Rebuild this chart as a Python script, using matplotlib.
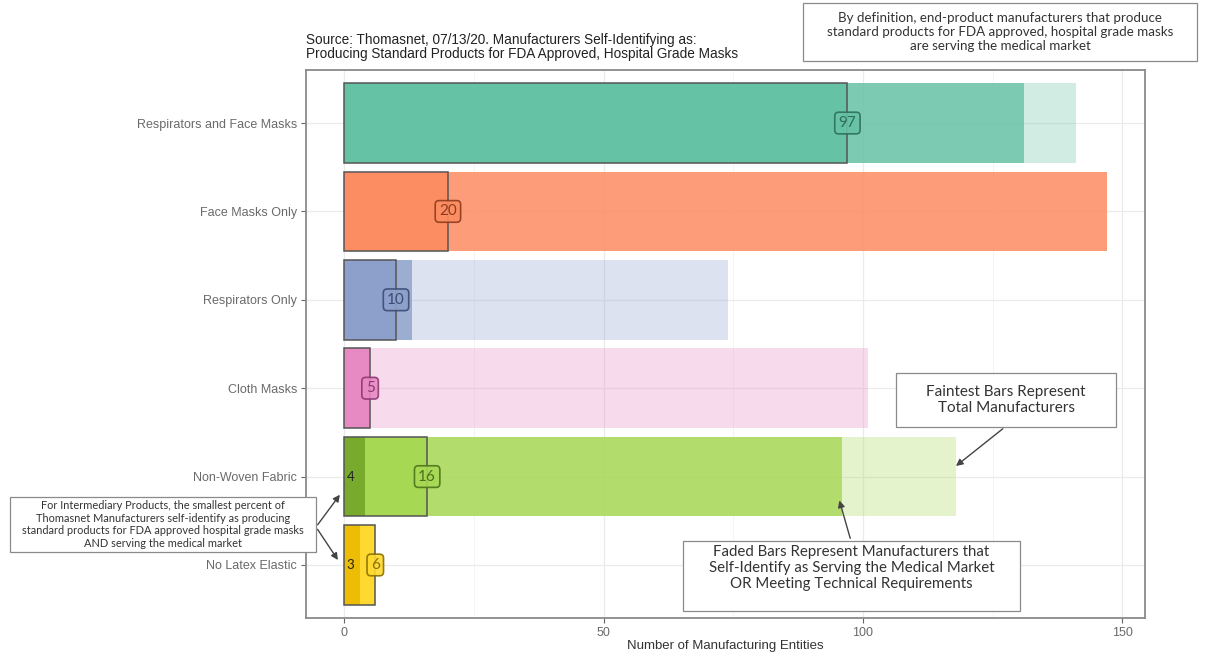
import matplotlib
matplotlib.use("Agg")
import matplotlib.pyplot as plt
from matplotlib.patches import Rectangle
from matplotlib.ticker import MultipleLocator

# data
categories = ["Respirators and Face Masks", "Face Masks Only", "Respirators Only",
              "Cloth Masks", "Non-Woven Fabric", "No Latex Elastic"]
total = [141, 147, 74, 101, 118, 6]              # faintest bars
medical_or_tech = [131, 147, 13, 5, 96, 6]       # faded bars
standard = [97, 20, 10, 5, 16, 6]                # solid bars
intermediary = [0, 0, 0, 0, 4, 3]                # dark inner bars

colors = ["#66C2A5", "#FC8D62", "#8DA0CB", "#E78AC3", "#A6D854", "#FFD92F"]
label_colors = ["#2F6E59", "#8E3B1C", "#3B4B72", "#8E3572", "#4C721A", "#8A7000"]
inner_colors = ["#66C2A5", "#FC8D62", "#8DA0CB", "#E78AC3", "#78AA2C", "#EDBD05"]

W, H = 1206, 654
fig = plt.figure(figsize=(W / 100, H / 100), dpi=100)
ax = fig.add_axes([306 / W, 1 - 618 / H, (1145 - 306) / W, (618 - 70) / H])

ypos = [len(categories) - 1 - i for i in range(len(categories))]

ax.barh(ypos, total, height=0.9, color=colors, alpha=0.3, lw=0, zorder=2)
ax.barh(ypos, medical_or_tech, height=0.9, color=colors, alpha=0.8, lw=0, zorder=3)
ax.barh(ypos, standard, height=0.9, color=colors, lw=0, zorder=4)
ax.barh(ypos, intermediary, height=0.9, color=inner_colors, lw=0, zorder=5)
ax.barh(ypos, standard, height=0.9, fill=False, edgecolor="#555555", lw=1.1, zorder=6)

for y, v, c, lc in zip(ypos, standard, colors, label_colors):
    ax.text(v, y, str(v), ha="center", va="center", fontsize=11, color=lc,
            family="Lato", zorder=8,
            bbox=dict(boxstyle="round,pad=0.25,rounding_size=0.25", fc=c,
                      ec=lc, lw=1.2, alpha=0.9))
for y, v in zip(ypos, intermediary):
    if v:
        ax.text(1.2, y, str(v), ha="center", va="center", fontsize=9.5,
                color="#222222", family="Lato", zorder=8)

xmax = max(total)
ax.set_xlim(-0.05 * xmax, 1.05 * xmax)
ax.set_ylim(-0.6, len(categories) - 0.4)
ax.set_yticks(ypos)
ax.set_yticklabels(categories)
ax.xaxis.set_major_locator(MultipleLocator(50))
ax.xaxis.set_minor_locator(MultipleLocator(25))
ax.grid(which="major", color="#EBEBEB", lw=0.9, zorder=0)
ax.grid(which="minor", axis="x", color="#F3F3F3", lw=0.6, zorder=0)
ax.set_axisbelow(True)
for s in ax.spines.values():
    s.set_color("#8A8A8A")
    s.set_linewidth(1.3)
ax.tick_params(which="major", length=3.5, color="#666666", labelcolor="#6A6A6A",
               labelsize=9, pad=3)
ax.tick_params(which="minor", length=0)
for t in ax.get_xticklabels() + ax.get_yticklabels():
    t.set_family("Liberation Sans")
fig.text(725 / W, 1 - 646 / H, "Number of Manufacturing Entities", ha="center",
         va="center", fontsize=9.5, color="#333333", family="Liberation Sans")

fig.text(306 / W, 1 - 47 / H,
         "Source: Thomasnet, 07/13/20. Manufacturers Self-Identifying as:\n"
         "Producing Standard Products for FDA Approved, Hospital Grade Masks",
         ha="left", va="center", fontsize=9.8, color="#222222",
         family="Liberation Sans", linespacing=1.05)


def note(x0, y0, x1, y1, text, size, ty=None):
    fig.patches.append(Rectangle((x0 / W, 1 - y1 / H), (x1 - x0) / W, (y1 - y0) / H,
                                 transform=fig.transFigure, fc="white",
                                 ec="#8A8A8A", lw=0.9, zorder=10))
    if ty is None:
        ty = (y0 + y1) / 2
    fig.text((x0 + x1) / 2 / W, 1 - ty / H, text, ha="center", va="center",
             fontsize=size, color="#333333", family="Lato", zorder=11,
             linespacing=1.15)


note(803, 3, 1197, 61,
     "By definition, end-product manufacturers that produce\n"
     "standard products for FDA approved, hospital grade masks\n"
     "are serving the medical market", 9.6)
note(896, 373, 1116, 427, "Faintest Bars Represent\nTotal Manufacturers", 11)
note(683, 541, 1020, 611,
     "Faded Bars Represent Manufacturers that\n"
     "Self-Identify as Serving the Medical Market\n"
     "OR Meeting Technical Requirements", 10.8, ty=568)
note(10, 497, 316, 552,
     "For Intermediary Products, the smallest percent of\n"
     "Thomasnet Manufacturers self-identify as producing\n"
     "standard products for FDA approved hospital grade masks\n"
     "AND serving the medical market", 7.9)

arrow = dict(arrowstyle="-|>", color="#444444", lw=1.0, mutation_scale=10)
nw = ypos[categories.index("Non-Woven Fabric")]
nl = ypos[categories.index("No Latex Elastic")]
ax.annotate("", xy=(117.5, nw + 0.1), xytext=(1005, H - 427),
            textcoords="figure pixels", arrowprops=arrow, annotation_clip=False)
ax.annotate("", xy=(95.3, nw - 0.24), xytext=(851, H - 541),
            textcoords="figure pixels", arrowprops=arrow, annotation_clip=False)
ax.annotate("", xy=(-0.5, nw - 0.18), xytext=(316, H - 527),
            textcoords="figure pixels", arrowprops=arrow, annotation_clip=False)
ax.annotate("", xy=(-0.9, nl + 0.03), xytext=(316, H - 527),
            textcoords="figure pixels", arrowprops=arrow, annotation_clip=False)

fig.savefig("out.png", dpi=100)
